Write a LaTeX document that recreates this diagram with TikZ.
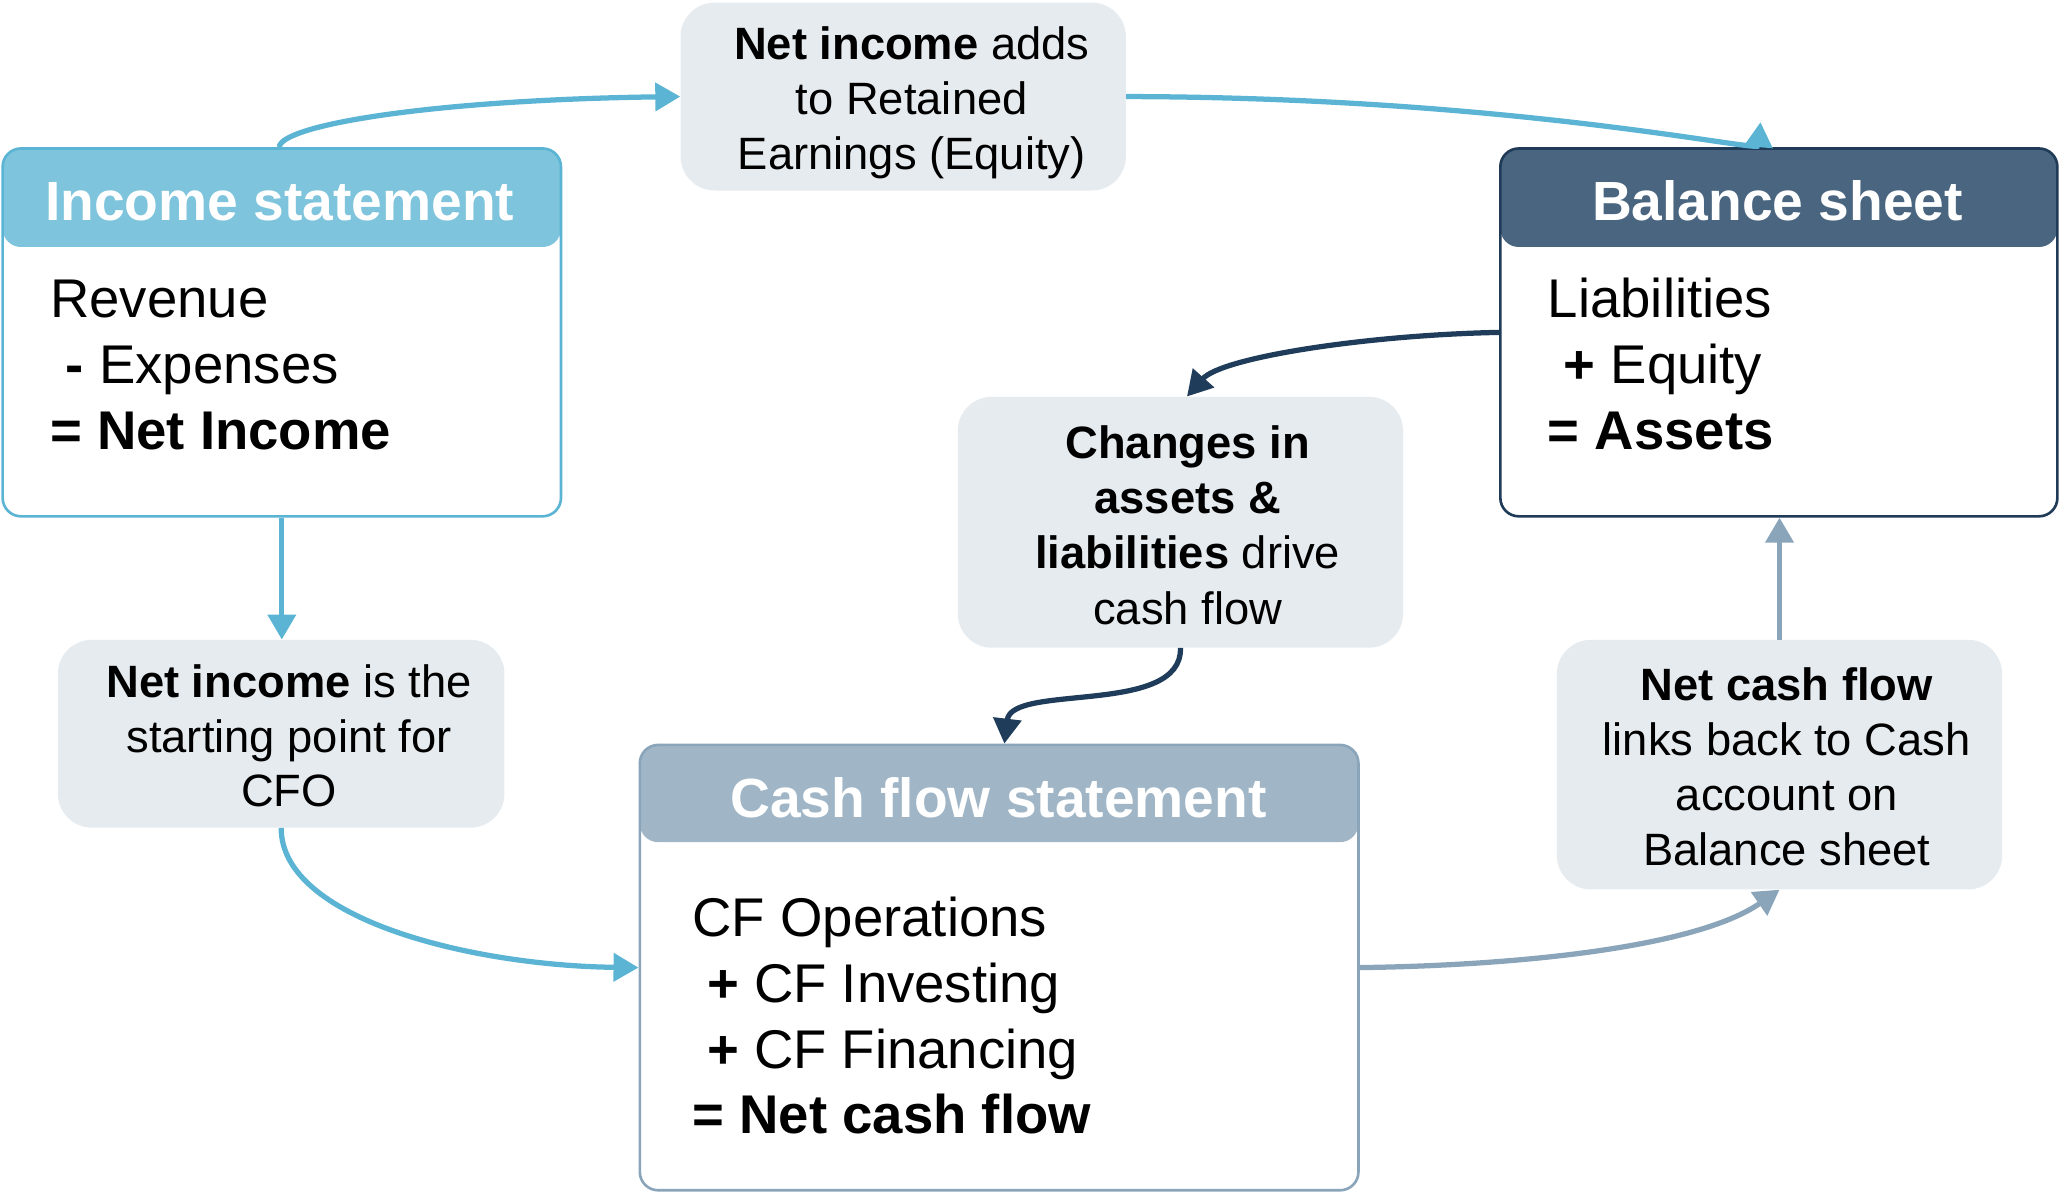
\documentclass[tikz,border=0pt]{standalone}
\usepackage{fontspec}
\setmainfont{Liberation Sans}
\usetikzlibrary{arrows.meta}
\definecolor{incB}{RGB}{91,180,212}
\definecolor{incH}{RGB}{126,196,220}
\definecolor{balB}{RGB}{31,59,87}
\definecolor{balH}{RGB}{74,101,128}
\definecolor{cfB}{RGB}{138,164,186}
\definecolor{cfH}{RGB}{160,182,198}
\definecolor{noteF}{RGB}{230,235,239}
\definecolor{darkA}{RGB}{31,61,90}
\begin{document}
\begin{tikzpicture}[x=1pt,y=-1pt,
  card/.style n args={3}{draw=#1, fill=white, line width=2pt, rounded corners=14pt, inner sep=0pt,
    path picture={\fill[#2] (path picture bounding box.north west) rectangle ([yshift=-#3pt]path picture bounding box.north east);}},
  note/.style={fill=noteF, rounded corners=26pt, inner sep=0pt},
  titletext/.style={text=white, font=\fontsize{42}{50}\selectfont\bfseries, anchor=base, inner sep=0pt},
  body/.style={font=\fontsize{41.5}{50}\selectfont, anchor=base west, inner sep=0pt},
  ntext/.style={font=\fontsize{34.5}{42}\selectfont, anchor=base, inner sep=0pt},
  conn/.style={line width=4pt, -{Triangle[length=19pt,width=21pt]}},
]
\useasboundingbox (0,0) rectangle (1568,910);

% cards
\node[card={incB}{incH}{75}, minimum width=425pt, minimum height=280pt] (inc) at (214.5,253) {};
\node[card={balB}{balH}{75}, minimum width=424pt, minimum height=280pt] (bal) at (1354,253) {};
\node[card={cfB}{cfH}{74}, minimum width=547pt, minimum height=339pt] (cfs) at (760.5,736.5) {};

% notes
\node[note, minimum width=339pt, minimum height=143pt] (n1) at (687.5,73.5) {};
\node[note, minimum width=339pt, minimum height=191pt] (n2) at (898.5,397.5) {};
\node[note, minimum width=340pt, minimum height=143pt] (n3) at (214,558.5) {};
\node[note, minimum width=339pt, minimum height=190pt] (n4) at (1354.5,582) {};

% titles
\node[titletext] (incT) at (213,168) {Income statement};
\node[titletext] (balT) at (1353,168) {Balance sheet};
\node[titletext] (cfsT) at (760,622) {Cash flow statement};

% body text
\node[body] (incL1) at (38,242) {Revenue};
\node[body] (incL2) at (50,292) {\textbf{-} Expenses};
\node[body] (incL3) at (38,342) {\textbf{= Net Income}};
\node[body] (balL1) at (1178,242) {Liabilities};
\node[body] (balL2) at (1190,292) {\textbf{+} Equity};
\node[body] (balL3) at (1178,342) {\textbf{= Assets}};
\node[body] (cfsL1) at (527,713) {CF Operations};
\node[body] (cfsL2) at (538,763) {\textbf{+} CF Investing};
\node[body] (cfsL3) at (538,813) {\textbf{+} CF Financing};
\node[body] (cfsL4) at (527,863) {\textbf{= Net cash flow}};

% note text
\node[ntext] (n1a) at (694,45) {\textbf{Net income} adds};
\node[ntext] (n1b) at (694,87) {to Retained};
\node[ntext] (n1c) at (694,129) {Earnings (Equity)};
\node[ntext] (n2a) at (904,349) {\textbf{Changes in}};
\node[ntext] (n2b) at (904,391) {\textbf{assets \&}};
\node[ntext] (n2c) at (904,433) {\textbf{liabilities} drive};
\node[ntext] (n2d) at (904,475) {cash flow};
\node[ntext] (n3a) at (220,531) {\textbf{Net income} is the};
\node[ntext] (n3b) at (220,573) {starting point for};
\node[ntext] (n3c) at (220,614) {CFO};
\node[ntext] (n4a) at (1360,533) {\textbf{Net cash flow}};
\node[ntext] (n4b) at (1360,575) {links back to Cash};
\node[ntext] (n4c) at (1360,617) {account on};
\node[ntext] (n4d) at (1360,659) {Balance sheet};

% connectors
\draw[conn, incB] ([xshift=-2pt]inc.north) .. controls (214,95) and (330,76) .. (n1.west);
\draw[conn, incB] (n1.east) .. controls (1150,74) and (1338,116) .. ([xshift=-14pt,yshift=19pt]bal.north);
\draw[conn, incB] (inc.south) -- (inc.south |- n3.north);
\draw[conn, incB] (n3.south) .. controls (214,700) and (360,735) .. (cfs.west);
\draw[conn, darkA] (bal.west) .. controls (1040,255) and (930,272) .. ([xshift=5pt]n2.north);
\draw[conn, darkA] (n2.south) .. controls (900,545) and (770,520) .. ([xshift=4pt]cfs.north);
\draw[conn, cfB] (cfs.east) .. controls (1150,735) and (1290,722) .. (n4.south);
\draw[conn, cfB] (n4.north) -- (n4.north |- bal.south);
\end{tikzpicture}
\end{document}
